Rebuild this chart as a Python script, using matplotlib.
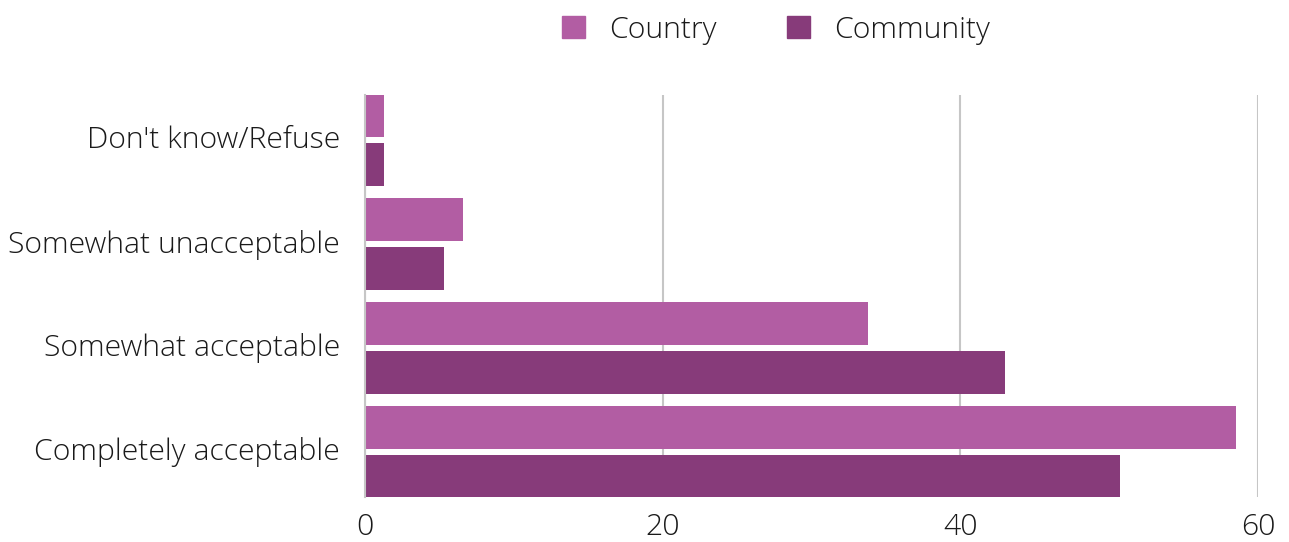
import matplotlib
matplotlib.use("Agg")
import matplotlib.pyplot as plt
import matplotlib.transforms as mtransforms
from matplotlib.patches import Patch
import numpy as np

categories = ["Completely acceptable", "Somewhat acceptable", "Somewhat unacceptable", "Don't know/Refuse"]
country = [58.5, 33.8, 6.6, 1.3]
community = [50.7, 43.0, 5.3, 1.3]
ticks = [0, 20, 40, 60]

country_color = "#B25DA3"
community_color = "#873B7A"
text_color = "#1A1A1A"

plt.rcParams['font.family'] = ['Open Sans', 'DejaVu Sans']
plt.rcParams['font.weight'] = 'light'

fig = plt.figure(figsize=(12.89, 5.42), dpi=100)
ax = fig.add_axes([365/1289, 1-497/542, (1258-365)/1289, (497-95)/542])

y = np.arange(len(categories))
h = 0.413
off = 0.232
ax.barh(y + off, country, height=h, color=country_color, zorder=3)
ax.barh(y - off, community, height=h, color=community_color, zorder=3)

ax.set_xlim(0, 60)
ax.set_ylim(-0.433, 3.433)
ax.set_xticks(ticks)
ax.set_yticks(y)
ax.set_yticklabels(categories)
ax.tick_params(axis='both', length=0, labelsize=21.7, colors=text_color)
ax.tick_params(axis='x', pad=11)
ax.tick_params(axis='y', pad=18)

# nudge category labels up a little
shift = mtransforms.ScaledTranslation(0, 3/100, fig.dpi_scale_trans)
for lbl in ax.get_yticklabels():
    lbl.set_transform(lbl.get_transform() + shift)

ax.grid(axis='x', color='#C6C6C6', linewidth=1.5, zorder=0)
for s in ['top', 'right', 'bottom']:
    ax.spines[s].set_visible(False)
ax.spines['left'].set_color('#C6C6C6')
ax.spines['left'].set_linewidth(1.5)
ax.spines['left'].set_zorder(4)

handles = [Patch(color=country_color, label='Country'),
           Patch(color=community_color, label='Community')]
fig.legend(handles=handles, loc='center', bbox_to_anchor=(776/1289, 1-30/542), ncol=2,
           frameon=False, fontsize=21.7, handlelength=0.75, handleheight=0.75,
           handletextpad=0.8, columnspacing=2.35, labelcolor=text_color)

fig.savefig("out.png", dpi=100)
